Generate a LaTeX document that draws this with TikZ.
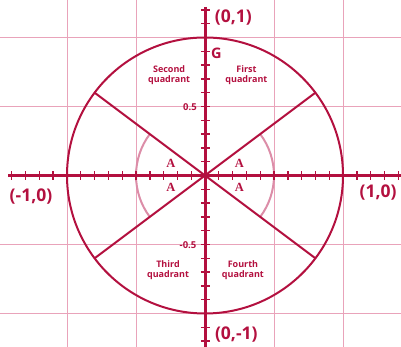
\documentclass[tikz,border=0pt]{standalone}
\usepackage{fontspec}
\setmainfont{Open Sans}
\newfontfamily\serifA{Liberation Serif}
\definecolor{crim}{HTML}{B3103F}
\definecolor{gridpink}{HTML}{E9A3BA}
\definecolor{arcpink}{HTML}{DC8DA8}
\tikzset{
  gridline/.style={gridpink, line width=0.9pt},
  axisline/.style={crim, line width=3pt},
  tickline/.style={crim, line width=1.4pt},
  mainline/.style={crim, line width=2pt},
  arcline/.style={arcpink, line width=2pt},
  bigl/.style={crim, font=\fontsize{17.5}{17.5}\selectfont\bfseries, inner sep=0pt},
  quadl/.style={crim, font=\fontsize{9}{10}\selectfont\bfseries, align=center, inner sep=0pt},
  numl/.style={crim, font=\fontsize{9.5}{10}\selectfont\bfseries, inner sep=0pt},
  albl/.style={crim, font=\fontsize{12.5}{12.5}\selectfont\serifA\bfseries, inner sep=0pt}
}
\begin{document}
\begin{tikzpicture}[x=138pt,y=138pt]
\useasboundingbox (-1.4855,-1.2428) rectangle (1.4203,1.2717);
% grid
\foreach \g in {-1,-0.5,0.5,1}{
  \draw[gridline] (\g,-1.2428) -- (\g,1.2717);
  \draw[gridline] (-1.4855,\g) -- (1.4203,\g);
}
% light arcs
\draw[arcline] (-36.87:0.5) arc[start angle=-36.87, end angle=36.87, radius=0.5];
\draw[arcline] (143.13:0.5) arc[start angle=143.13, end angle=216.87, radius=0.5];
% circle
\coordinate (O) at (0,0);
\draw[mainline] (O) circle[radius=1];
% radial lines
\coordinate (p1) at (0.8,0.6);
\coordinate (p2) at (-0.8,-0.6);
\coordinate (p3) at (-0.8,0.6);
\coordinate (p4) at (0.8,-0.6);
\draw[mainline] (p1) -- (p2);
\draw[mainline] (p3) -- (p4);
% axes
\coordinate (xl) at (-1.4275,0);
\coordinate (xr) at (1.4203,0);
\coordinate (yt) at (0,1.221);
\coordinate (yb) at (0,-1.2428);
\draw[axisline] (xl) -- (xr);
\draw[axisline] (yt) -- (yb);
% ticks
\foreach \i in {-14,...,-1,1,2,...,14}{
  \draw[tickline] (\i/10,-0.03) -- (\i/10,0.03);
}
\foreach \i in {-12,...,-1,1,2,...,12}{
  \draw[tickline] (-0.03,\i/10) -- (0.035,\i/10);
}
% labels
\node[bigl] (n01) at (0.205,1.141) {(0,1)};
\node[bigl] (n0m1) at (0.227,-1.149) {(0,-1)};
\node[bigl] (nm10) at (-1.261,-0.156) {(-1,0)};
\node[bigl] (n10) at (1.254,-0.12) {(1,0)};
\node[crim, font=\fontsize{14.5}{14.5}\selectfont\bfseries, inner sep=0pt] (G) at (0.083,0.888) {G};
\node[numl] (h) at (-0.109,0.496) {0.5};
\node[numl] (mh) at (-0.123,-0.504) {-0.5};
\node[quadl] (q2) at (-0.26,0.728) {Second\\quadrant};
\node[quadl] (q1) at (0.30,0.728) {First\\quadrant};
\node[quadl] (q3) at (-0.268,-0.688) {Third\\quadrant};
\node[quadl] (q4) at (0.275,-0.688) {Fourth\\quadrant};
\node[albl] (a1) at (-0.248,0.087) {A};
\node[albl] (a2) at (-0.248,-0.087) {A};
\node[albl] (a3) at (0.25,0.087) {A};
\node[albl] (a4) at (0.25,-0.087) {A};
\end{tikzpicture}
\end{document}
